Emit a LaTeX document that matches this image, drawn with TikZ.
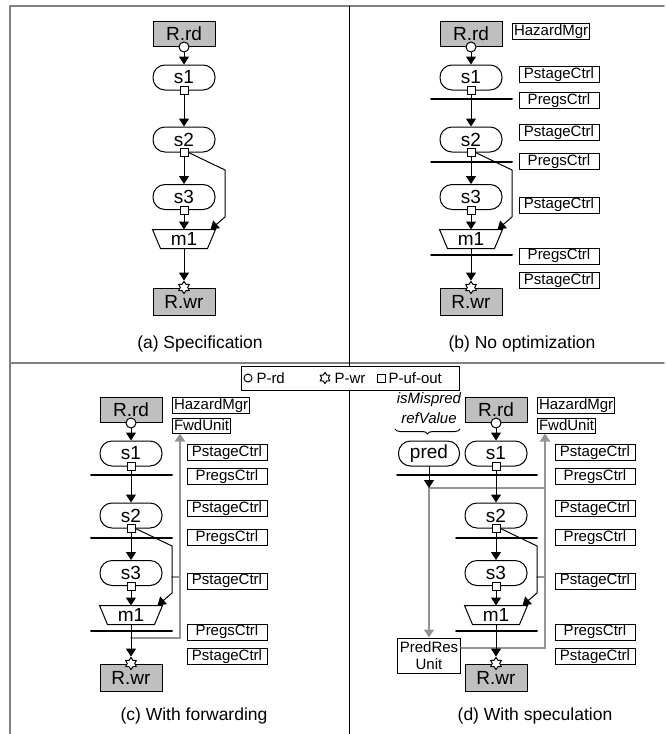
\documentclass[tikz,border=0pt]{standalone}
\usepackage{fontspec}
\setmainfont{Liberation Sans}
\usetikzlibrary{arrows.meta,shapes.geometric,decorations.pathreplacing}

\begin{document}
\begin{tikzpicture}[x=1pt,y=-1pt,>={Triangle[length=8pt,width=10pt]},line cap=round,line width=1pt,
  font=\fontsize{19}{20}\selectfont,
  reg/.style={draw,fill=black!25,minimum width=62pt,minimum height=25pt,inner sep=0pt},
  stage/.style={draw,rounded corners=12pt,minimum width=62pt,minimum height=25pt,inner sep=0pt},
  mux/.style={minimum width=62pt,minimum height=18pt,inner sep=0pt},
  ctrl/.style={draw,minimum width=80pt,minimum height=16pt,inner sep=0pt,font=\fontsize{15}{16}\selectfont},
  unit/.style={draw,inner sep=1.5pt,minimum height=15pt,font=\fontsize{15}{16}\selectfont},
  rdport/.style={circle,draw,fill=white,minimum size=10pt,inner sep=0pt},
  ufport/.style={rectangle,draw,fill=white,minimum size=8pt,inner sep=0pt},
  wrport/.style={star,star points=6,star point ratio=1.6,draw,fill=white,minimum size=12pt,inner sep=0pt},
  flow/.style={->},
  preg/.style={line width=2pt},
  fwd/.style={black!42,line width=2pt},
  frame/.style={black!50,line width=1.6pt},
  caption/.style={font=\fontsize{17.5}{20}\selectfont}]
\useasboundingbox (0,0) rectangle (665,734);
% frame
\draw[frame] (10,6) -- (664,6);
\draw[frame] (10,6) -- (10,734);
\draw[frame] (10,363) -- (664,363);
\draw (349.5,6) -- (349.5,734);

% (a) specification
\begin{scope}[shift={(184,0)}]
\node[reg] (a-rd) at (0,34) {R.rd};
\node[stage] (a-s1) at (0,77.5) {s1};
\node[stage] (a-s2) at (0,139.5) {s2};
\node[stage] (a-s3) at (0,197) {s3};
\node[mux] (a-m1) at (0,239) {m1};
\draw (a-m1.north west) -- (a-m1.north east) -- ([xshift=-8pt]a-m1.south east) -- ([xshift=8pt]a-m1.south west) -- cycle;
\node[reg,minimum height=27pt] (a-wr) at (0,301.5) {R.wr};
\node[rdport] (a-prd) at (a-rd.south) {};
\node[ufport] (a-p1) at (a-s1.south) {};
\node[ufport] (a-p2) at (a-s2.south) {};
\node[ufport] (a-p3) at (a-s3.south) {};
\node[wrport] (a-pwr) at (a-wr.north) {};
\draw[flow] (a-prd) -- (a-s1);
\draw[flow] (a-p1) -- (a-s2);
\draw[flow] (a-p2) -- (a-s3);
\draw[flow] (a-p3) -- (a-m1);
\draw[flow] (a-m1) -- (a-pwr);
\draw[flow] (a-p2.east) -- (41,170) -- (41,217) -- ([xshift=-5pt]a-m1.north east);
\end{scope}
\node[caption] (a-cap) at (200,344) {(a) Specification};

% (b) no optimization
\begin{scope}[shift={(471,0)}]
\node[reg] (b-rd) at (0,34) {R.rd};
\node[stage] (b-s1) at (0,77.5) {s1};
\node[stage] (b-s2) at (0,139.5) {s2};
\node[stage] (b-s3) at (0,197) {s3};
\node[mux] (b-m1) at (0,239) {m1};
\draw (b-m1.north west) -- (b-m1.north east) -- ([xshift=-8pt]b-m1.south east) -- ([xshift=8pt]b-m1.south west) -- cycle;
\node[reg,minimum height=27pt] (b-wr) at (0,301.5) {R.wr};
\node[rdport] (b-prd) at (b-rd.south) {};
\node[ufport] (b-p1) at (b-s1.south) {};
\node[ufport] (b-p2) at (b-s2.south) {};
\node[ufport] (b-p3) at (b-s3.south) {};
\node[wrport] (b-pwr) at (b-wr.north) {};
\draw[preg] (-40,99) -- (41,99);
\draw[preg] (-40,162) -- (41,162);
\draw[preg] (-40,255) -- (41,255);
\draw[flow] (b-prd) -- (b-s1);
\draw[flow] (b-p1) -- (b-s2);
\draw[flow] (b-p2) -- (b-s3);
\draw[flow] (b-p3) -- (b-m1);
\draw[flow] (b-m1) -- (b-pwr);
\draw[flow] (b-p2.east) -- (41,170) -- (41,217) -- ([xshift=-5pt]b-m1.north east);
\node[unit,anchor=west] (b-hm) at (41,31.5) {HazardMgr};
\node[ctrl] (b-c1) at (88,74.5) {PstageCtrl};
\node[ctrl] (b-c2) at (88,100.5) {PregsCtrl};
\node[ctrl] (b-c3) at (88,132.5) {PstageCtrl};
\node[ctrl] (b-c4) at (88,161.5) {PregsCtrl};
\node[ctrl] (b-c5) at (88,205) {PstageCtrl};
\node[ctrl] (b-c6) at (88,256) {PregsCtrl};
\node[ctrl] (b-c7) at (88,280.5) {PstageCtrl};
\end{scope}
\node[caption] (b-cap) at (522,344) {(b) No optimization};

% legend
\node[draw,fill=white,minimum width=218pt,minimum height=24pt,inner sep=0pt] (legend) at (350,378) {};
\node[rdport,minimum size=8pt] (lg-rd) at (248,378) {};
\node[anchor=west,inner sep=0pt,font=\fontsize{15}{16}\selectfont] (lg-rdt) at (256,378) {P-rd};
\node[wrport,minimum size=11pt] (lg-wr) at (325,378) {};
\node[anchor=west,inner sep=0pt,font=\fontsize{15}{16}\selectfont] (lg-wrt) at (334,378) {P-wr};
\node[ufport] (lg-uf) at (381,378) {};
\node[anchor=west,inner sep=0pt,font=\fontsize{15}{16}\selectfont] (lg-uft) at (388,378) {P-uf-out};

% (c) with forwarding
\begin{scope}[shift={(131,376)}]
\node[reg] (c-rd) at (0,34) {R.rd};
\node[stage] (c-s1) at (0,77.5) {s1};
\node[stage] (c-s2) at (0,139.5) {s2};
\node[stage] (c-s3) at (0,197) {s3};
\node[mux] (c-m1) at (0,239) {m1};
\draw (c-m1.north west) -- (c-m1.north east) -- ([xshift=-8pt]c-m1.south east) -- ([xshift=8pt]c-m1.south west) -- cycle;
\node[reg,minimum height=27pt] (c-wr) at (0,301.5) {R.wr};
\node[unit,anchor=west] (c-hm) at (41,29.5) {HazardMgr};
\node[unit,anchor=west] (c-fu) at (41,49.5) {FwdUnit};
\node[rdport] (c-prd) at (c-rd.south) {};
\node[ufport] (c-p1) at (c-s1.south) {};
\node[ufport] (c-p2) at (c-s2.south) {};
\node[ufport] (c-p3) at (c-s3.south) {};
\node[wrport] (c-pwr) at (c-wr.north) {};
\coordinate (c-tap) at (0,262);
\draw[fwd,->] (c-tap) -- (49,262) -- ([xshift=8pt]c-fu.south west);
\draw[fwd] (41,201) -- (49,201);
\draw[preg] (-40,99) -- (41,99);
\draw[preg] (-40,162) -- (41,162);
\draw[preg] (-40,255) -- (41,255);
\draw[flow] (c-prd) -- (c-s1);
\draw[flow] (c-p1) -- (c-s2);
\draw[flow] (c-p2) -- (c-s3);
\draw[flow] (c-p3) -- (c-m1);
\draw[flow] (c-m1) -- (c-pwr);
\draw[flow] (c-p2.east) -- (41,170) -- (41,217) -- ([xshift=-5pt]c-m1.north east);
\node[ctrl] (c-c1) at (96,76.5) {PstageCtrl};
\node[ctrl] (c-c2) at (96,100.5) {PregsCtrl};
\node[ctrl] (c-c3) at (96,132.5) {PstageCtrl};
\node[ctrl] (c-c4) at (96,161.5) {PregsCtrl};
\node[ctrl] (c-c5) at (96,205) {PstageCtrl};
\node[ctrl] (c-c6) at (96,256) {PregsCtrl};
\node[ctrl] (c-c7) at (96,280.5) {PstageCtrl};
\end{scope}
\node[caption] (c-cap) at (194,716) {(c) With forwarding};

% (d) with speculation
\begin{scope}[shift={(496,376)}]
\node[reg] (d-rd) at (0,34) {R.rd};
\node[stage] (d-s1) at (0,77.5) {s1};
\node[stage,minimum width=61pt] (d-pred) at (-67,77.5) {pred};
\node[stage] (d-s2) at (0,139.5) {s2};
\node[stage] (d-s3) at (0,197) {s3};
\node[mux] (d-m1) at (0,239) {m1};
\draw (d-m1.north west) -- (d-m1.north east) -- ([xshift=-8pt]d-m1.south east) -- ([xshift=8pt]d-m1.south west) -- cycle;
\node[reg,minimum height=27pt] (d-wr) at (0,301.5) {R.wr};
\node[unit,anchor=west] (d-hm) at (41,29.5) {HazardMgr};
\node[unit,anchor=west] (d-fu) at (41,49.5) {FwdUnit};
\node[draw,minimum width=63pt,minimum height=35pt,inner sep=0pt,align=center,font=\fontsize{15}{17}\selectfont] (d-pr) at (-67,279.5) {PredRes\\Unit};
\node[font=\itshape\fontsize{15}{16}\selectfont] (d-mis) at (-67,24) {isMispred};
\node[font=\itshape\fontsize{15}{16}\selectfont] (d-ref) at (-67,42) {refValue};
\draw[decorate,decoration={brace,mirror,amplitude=5pt}] (-101,53) -- (-36,53);
\node[rdport] (d-prd) at (d-rd.south) {};
\node[ufport] (d-p1) at (d-s1.south) {};
\node[ufport] (d-p2) at (d-s2.south) {};
\node[ufport] (d-p3) at (d-s3.south) {};
\node[wrport] (d-pwr) at (d-wr.north) {};
\coordinate (d-tap) at (-67,112);
\draw[fwd,->] (d-tap) -- (d-pr);
\draw[fwd] (d-tap) -- (49,112);
\draw[fwd,->] ([yshift=7.5pt]d-pr.east) -- (49,272) -- ([xshift=8pt]d-fu.south west);
\draw[fwd] (41,201) -- (49,201);
\draw[preg] (-99,99) -- (41,99);
\draw[preg] (-40,162) -- (41,162);
\draw[preg] (-40,255) -- (41,255);
\draw[flow] (d-pred) -- (d-tap);
\draw[flow] (d-prd) -- (d-s1);
\draw[flow] (d-p1) -- (d-s2);
\draw[flow] (d-p2) -- (d-s3);
\draw[flow] (d-p3) -- (d-m1);
\draw[flow] (d-m1) -- (d-pwr);
\draw[flow] (d-p2.east) -- (41,170) -- (41,217) -- ([xshift=-5pt]d-m1.north east);
\node[ctrl] (d-c1) at (99,76.5) {PstageCtrl};
\node[ctrl] (d-c2) at (99,100.5) {PregsCtrl};
\node[ctrl] (d-c3) at (99,132.5) {PstageCtrl};
\node[ctrl] (d-c4) at (99,161.5) {PregsCtrl};
\node[ctrl] (d-c5) at (99,205) {PstageCtrl};
\node[ctrl] (d-c6) at (99,256) {PregsCtrl};
\node[ctrl] (d-c7) at (99,280.5) {PstageCtrl};
\end{scope}
\node[caption] (d-cap) at (535,716) {(d) With speculation};
\end{tikzpicture}
\end{document}
